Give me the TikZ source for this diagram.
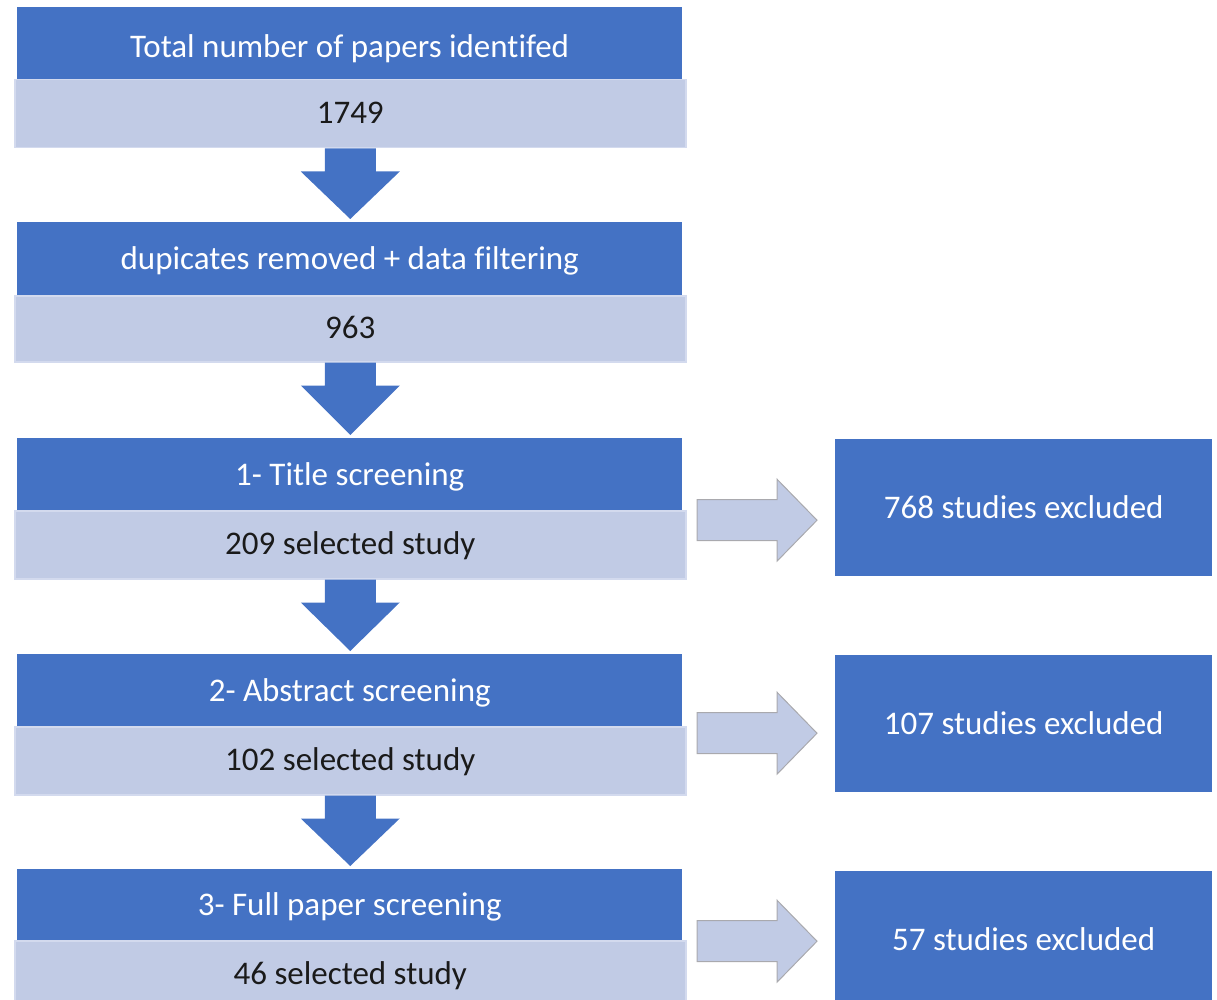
\documentclass[tikz,border=0pt]{standalone}
\usepackage{fontspec}
\setmainfont{Carlito}[Ligatures=NoCommon]
\usetikzlibrary{calc}
\definecolor{darkblue}{HTML}{4472C4}
\definecolor{lightblue}{HTML}{C1CBE5}
\definecolor{lightedge}{HTML}{D3DAEE}
\definecolor{arrowedge}{HTML}{A9A9AE}
\definecolor{inktext}{HTML}{1A1A1A}
\begin{document}
\begin{tikzpicture}[x=1pt,y=-1pt,
  headbox/.style={rectangle,anchor=north west,inner sep=0pt,fill=darkblue,
    text=white,font=\fontsize{33}{40}\selectfont,minimum width=665pt,
    text height=22pt,text depth=0pt},
  countbox/.style={rectangle,anchor=north west,inner sep=0pt,fill=lightblue,
    draw=lightedge,line width=1.5pt,text=inktext,font=\fontsize{33}{40}\selectfont,
    minimum width=671pt,minimum height=68pt,text height=20pt,text depth=0pt},
  exclbox/.style={rectangle,anchor=north west,inner sep=0pt,fill=darkblue,
    text=white,font=\fontsize{33}{40}\selectfont,minimum width=377pt,minimum height=137pt,
    text height=21pt,text depth=0pt},
  downarrow/.style={fill=darkblue},
  sidearrow/.style={fill=lightblue,draw=arrowedge,line width=1pt,line join=miter}]
\useasboundingbox (0,0) rectangle (1217,1000);
\begin{scope}
\clip (0,0) rectangle (1217,1000);

% left column: stage headings and counts
\node[headbox,minimum height=72pt,text height=28pt] (h1) at (17,7) {Total number of papers identifed};
\node[countbox] (c1) at (14,79) {1749};
\node[headbox,minimum height=73pt] (h2) at (17,222) {dupicates removed + data filtering};
\node[countbox,minimum height=66pt] (c2) at (14,295) {963};
\node[headbox,minimum height=72pt] (h3) at (17,438) {1- Title screening};
\node[countbox] (c3) at (14,510) {209 selected study};
\node[headbox,minimum height=72pt] (h4) at (17,654) {2- Abstract screening};
\node[countbox] (c4) at (14,726) {102 selected study};
\node[headbox,minimum height=71pt] (h5) at (17,869) {3- Full paper screening};
\node[countbox] (c5) at (14,940) {46 selected study};

% right column: exclusions
\node[exclbox] (e3) at (835,439) {768 studies excluded};
\node[exclbox] (e4) at (835,655) {107 studies excluded};
\node[exclbox] (e5) at (835,871) {57 studies excluded};

% block arrows between stages
\foreach \a/\b in {c1/h2,c2/h3,c3/h4,c4/h5}{
  \fill[downarrow] let \p1=(\a.south), \p2=(\b.north) in
    (\x1-25.5,\y1) -- (\x1+25.5,\y1) -- (\x1+25.5,\y1-23) -- (\x1+49.5,\y1-23)
    -- (\x1,\y2+3) -- (\x1-49.5,\y1-23) -- (\x1-25.5,\y1-23) -- cycle;
}

% block arrows towards exclusions
\foreach \b/\dy in {e3/-12.5,e4/-9.5,e5/-1.5}{
  \draw[sidearrow] let \p1=(\b.west) in
    (697,\y1+20.5+\dy) -- (777,\y1+20.5+\dy) -- (777,\y1+41+\dy) -- (\x1-18,\y1+\dy)
    -- (777,\y1-41+\dy) -- (777,\y1-20.5+\dy) -- (697,\y1-20.5+\dy) -- cycle;
}
\end{scope}
\end{tikzpicture}
\end{document}
